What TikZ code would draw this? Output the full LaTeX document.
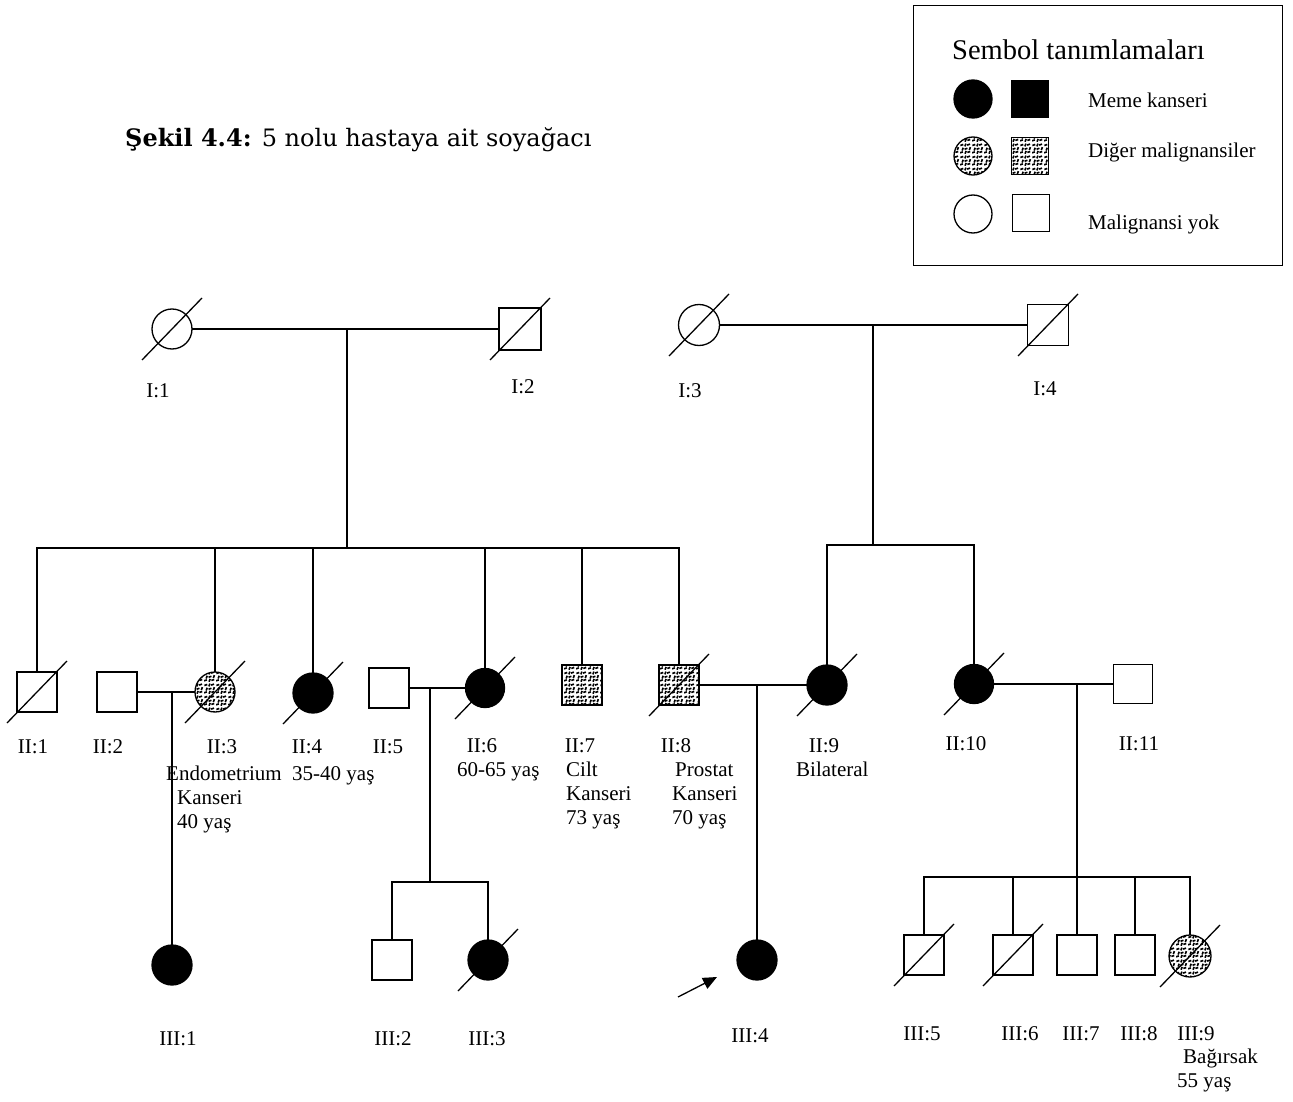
\documentclass[tikz,border=0pt]{standalone}
\usepackage{fontspec}
\setmainfont{Liberation Serif}
\newfontfamily\titlefont{DejaVu Serif}
\usetikzlibrary{patterns.meta,arrows.meta}
\tikzdeclarepattern{
  name=speckle,
  type=uncolored,
  bottom left={(0pt,0pt)},
  top right={(12pt,12pt)},
  tile size={(12pt,12pt)},
  code={
    \fill (0.4pt,0.4pt) -- ++(3pt,1.1pt) -- ++(-0.7pt,1.6pt) -- ++(-3pt,-1.1pt) -- cycle;
    \fill (4.6pt,0.6pt) -- ++(1.1pt,3pt) -- ++(1.6pt,-0.7pt) -- ++(-1.1pt,-3pt) -- cycle;
    \fill (8.2pt,0.8pt) -- ++(3pt,1.1pt) -- ++(-0.7pt,1.6pt) -- ++(-3pt,-1.1pt) -- cycle;
    \fill (1.5pt,4pt) -- ++(1.1pt,3pt) -- ++(1.6pt,-0.7pt) -- ++(-1.1pt,-3pt) -- cycle;
    \fill (5.2pt,4.2pt) -- ++(3pt,1.1pt) -- ++(-0.7pt,1.6pt) -- ++(-3pt,-1.1pt) -- cycle;
    \fill (9.1pt,4.6pt) -- ++(1.1pt,3pt) -- ++(1.6pt,-0.7pt) -- ++(-1.1pt,-3pt) -- cycle;
    \fill (0.8pt,8.2pt) -- ++(3pt,1.1pt) -- ++(-0.7pt,1.6pt) -- ++(-3pt,-1.1pt) -- cycle;
    \fill (4.4pt,8.4pt) -- ++(1.1pt,3pt) -- ++(1.6pt,-0.7pt) -- ++(-1.1pt,-3pt) -- cycle;
    \fill (7.9pt,8.6pt) -- ++(3pt,1.1pt) -- ++(-0.7pt,1.6pt) -- ++(-3pt,-1.1pt) -- cycle;
  }
}
\newcommand\dslash[1]{\draw[slashline] (#1.center) ++(-30,31) -- ++(60,-62);}
\begin{document}
\begin{tikzpicture}[x=1pt,y=-1pt,
  base/.style={draw, line width=1.3pt, inner sep=0pt, outer sep=0pt},
  fem/.style={base, circle, minimum size=40pt},
  mal/.style={base, rectangle, minimum size=40pt},
  bc/.style={fill=black},
  oth/.style={pattern=speckle, pattern color=black},
  lbl/.style={font=\fontsize{21}{23}\selectfont, inner sep=0pt, text height=14pt, text depth=4pt},
  leg/.style={font=\fontsize{21}{23}\selectfont, inner sep=0pt, anchor=west},
  slashline/.style={line width=1.3pt},
  link/.style={line width=1.3pt}]
\useasboundingbox (0,0) rectangle (1293,1102);
\fill[white] (0,0) rectangle (1293,1102);

% title
\node[anchor=west, inner sep=0pt, font=\titlefont\fontsize{24}{27}\selectfont] (title) at (125,140) {\textbf{Şekil 4.4:} 5 nolu hastaya ait soyağacı};

% legend
\node[draw, line width=1.2pt, minimum width=369pt, minimum height=260pt, anchor=north west, inner sep=0pt] (legend) at (913,5) {};
\node[anchor=west, inner sep=0pt, font=\fontsize{28.5}{31}\selectfont] (legtitle) at (952,50) {Sembol tanımlamaları};
\node[fem, bc, minimum size=38pt] (lc1) at (973,99) {};
\node[mal, bc, minimum size=37pt] (ls1) at (1030,99) {};
\node[fem, oth, minimum size=38pt] (lc2) at (973,156) {};
\node[mal, oth, minimum size=37pt] (ls2) at (1030,156) {};
\node[fem, minimum size=38pt] (lc3) at (973,214) {};
\node[mal, minimum size=37pt] (ls3) at (1031,213) {};
\node[leg] (lt1) at (1088,100) {Meme kanseri};
\node[leg] (lt2) at (1088,152) {Diğer malignansiler};
\node[leg] (lt3) at (1088,224) {Malignansi yok};

% generation I
\node[fem] (I1) at (172,329) {};
\node[mal, minimum size=42pt] (I2) at (520,329) {};
\node[fem, minimum size=41pt] (I3) at (699,325) {};
\node[mal, minimum size=41pt] (I4) at (1048,325) {};
\dslash{I1} \dslash{I2} \dslash{I3} \dslash{I4}
\draw[link] (I1.east) -- (I2.west);
\draw[link] (I3.east) -- (I4.west);
\coordinate (m12) at (347,329);
\coordinate (s1) at (347,548);
\coordinate (m34) at (873,325);
\coordinate (s2) at (873,545);
\draw[link] (m12) -- (s1);
\draw[link] (m34) -- (s2);
\node[lbl] (lI1) at (158,392) {I:1};
\node[lbl] (lI2) at (523,388) {I:2};
\node[lbl] (lI3) at (690,392) {I:3};
\node[lbl] (lI4) at (1045,390) {I:4};

% generation II
\node[mal] (II1) at (37,692) {};
\node[mal] (II2) at (117,692) {};
\node[fem, oth] (II3) at (215,692) {};
\node[fem, bc] (II4) at (313,693) {};
\node[mal] (II5) at (389,688) {};
\node[fem, bc, minimum size=39pt] (II6) at (485,688) {};
\node[mal, oth] (II7) at (582,685) {};
\node[mal, oth] (II8) at (679,685) {};
\node[fem, bc] (II9) at (827,685) {};
\node[fem, bc, minimum size=39pt] (II10) at (974,684) {};
\node[mal, minimum size=39pt] (II11) at (1133,684) {};
\dslash{II1} \dslash{II3} \dslash{II4} \dslash{II6} \dslash{II8} \dslash{II9} \dslash{II10}

% sibship II (left)
\draw[link] (II1.north) |- (s1) -| (II8.north);
\draw[link] (II3.north) -- (II3.north |- s1);
\draw[link] (II4.north) -- (II4.north |- s1);
\draw[link] (II6.north) -- (II6.north |- s1);
\draw[link] (II7.north) -- (II7.north |- s1);
% sibship II (right)
\draw[link] (II9.north) |- (s2) -| (II10.north);

% marriages II
\draw[link] (II2.east) -- (II3.west);
\draw[link] (II5.east) -- (II6.west);
\draw[link] (II8.east) -- (II9.west);
\draw[link] (II10.east) -- (II11.west);

% labels II
\node[lbl] (lII1) at (33,748) {II:1};
\node[lbl] (lII2) at (108,748) {II:2};
\node[lbl] (lII3) at (222,748) {II:3};
\node[lbl] (lII4) at (307,748) {II:4};
\node[lbl] (lII5) at (388,748) {II:5};
\node[lbl] (lII6) at (482,747) {II:6};
\node[lbl] (lII7) at (580,747) {II:7};
\node[lbl] (lII8) at (676,747) {II:8};
\node[lbl] (lII9) at (824,747) {II:9};
\node[lbl] (lII10) at (966,745) {II:10};
\node[lbl] (lII11) at (1139,745) {II:11};
\node[lbl, anchor=west] (t3a) at (166,775) {Endometrium};
\node[lbl, anchor=west] (t3b) at (177,799) {Kanseri};
\node[lbl, anchor=west] (t3c) at (177,823) {40 yaş};
\node[lbl, anchor=west] (t4a) at (292,775) {35-40 yaş};
\node[lbl, anchor=west] (t6a) at (457,771) {60-65 yaş};
\node[lbl, anchor=west] (t7a) at (566,771) {Cilt};
\node[lbl, anchor=west] (t7b) at (566,795) {Kanseri};
\node[lbl, anchor=west] (t7c) at (566,819) {73 yaş};
\node[lbl, anchor=west] (t8a) at (675,771) {Prostat};
\node[lbl, anchor=west] (t8b) at (672,795) {Kanseri};
\node[lbl, anchor=west] (t8c) at (672,819) {70 yaş};
\node[lbl, anchor=west] (t9a) at (796,771) {Bilateral};

% generation III
\node[fem, bc] (III1) at (172,965) {};
\node[mal] (III2) at (392,960) {};
\node[fem, bc] (III3) at (488,960) {};
\node[fem, bc] (III4) at (757,960) {};
\node[mal] (III5) at (924,955) {};
\node[mal] (III6) at (1013,955) {};
\node[mal] (III7) at (1077,955) {};
\node[mal] (III8) at (1135,955) {};
\node[fem, oth, minimum size=42pt] (III9) at (1190,956) {};
\dslash{III3} \dslash{III5} \dslash{III6} \dslash{III9}

\coordinate (m23) at (172,692);
\draw[link] (m23) -- (III1.north);
\coordinate (m56) at (430,688);
\coordinate (s3) at (430,882);
\draw[link] (m56) -- (s3);
\draw[link] (III2.north) |- (s3) -| (III3.north);
\coordinate (m89) at (757,685);
\draw[link] (m89) -- (III4.north);
\coordinate (m1011) at (1077,684);
\coordinate (s4) at (1077,877);
\draw[link] (m1011) -- (III7.north);
\draw[link] (III5.north) |- (s4) -| (III9.north);
\draw[link] (III6.north) -- (III6.north |- s4);
\draw[link] (III8.north) -- (III8.north |- s4);

% proband arrow
\coordinate (pa) at (678,997);
\coordinate (pb) at (717,977);
\draw[link, -{Triangle[length=14pt,width=12pt]}] (pa) -- (pb);

% labels III
\node[lbl] (lIII1) at (178,1040) {III:1};
\node[lbl] (lIII2) at (393,1040) {III:2};
\node[lbl] (lIII3) at (487,1040) {III:3};
\node[lbl] (lIII4) at (750,1037) {III:4};
\node[lbl] (lIII5) at (922,1035) {III:5};
\node[lbl] (lIII6) at (1020,1035) {III:6};
\node[lbl] (lIII7) at (1081,1035) {III:7};
\node[lbl] (lIII8) at (1139,1035) {III:8};
\node[lbl] (lIII9) at (1196,1035) {III:9};
\node[lbl, anchor=west] (t39a) at (1183,1058) {Bağırsak};
\node[lbl, anchor=west] (t39b) at (1177,1082) {55 yaş};
\end{tikzpicture}
\end{document}
